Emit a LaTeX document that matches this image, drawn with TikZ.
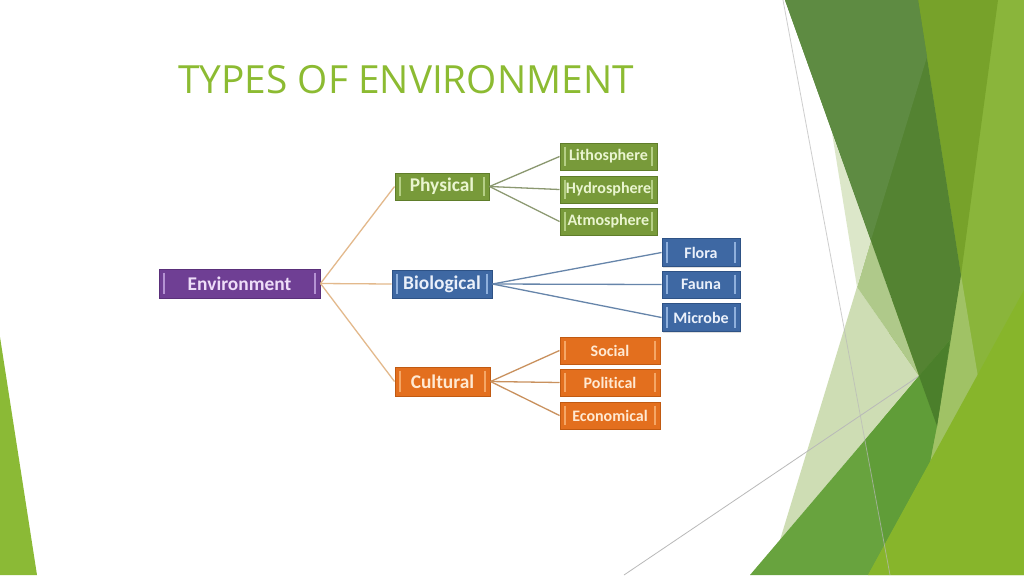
\documentclass[tikz,border=0pt]{standalone}
\usepackage{fontspec}
\usetikzlibrary{shadows}
\newfontfamily\titlefont{Open Sans}
\newfontfamily\boxfont{Carlito}[Ligatures=NoCommon]
\definecolor{titlegreen}{HTML}{8CBB32}
\definecolor{envfill}{HTML}{6F3F94}
\definecolor{envdraw}{HTML}{5A2F7A}
\definecolor{envtext}{HTML}{EEDDF8}
\definecolor{envbar}{HTML}{B593D3}
\definecolor{grfill}{HTML}{789A3A}
\definecolor{grdraw}{HTML}{5F7D2A}
\definecolor{grtext}{HTML}{EAF5D0}
\definecolor{grbar}{HTML}{B5CF85}
\definecolor{blfill}{HTML}{3E68A3}
\definecolor{bldraw}{HTML}{2E5285}
\definecolor{bltext}{HTML}{EAF0FA}
\definecolor{blbar}{HTML}{8FB0DC}
\definecolor{orfill}{HTML}{E36F1E}
\definecolor{ordraw}{HTML}{C05A12}
\definecolor{ortext}{HTML}{FFE9D2}
\definecolor{orbar}{HTML}{F5A766}
\definecolor{envln}{HTML}{E3B98C}
\definecolor{grln}{HTML}{8B9870}
\definecolor{blln}{HTML}{6685AA}
\definecolor{orln}{HTML}{C9915E}
\definecolor{decoA}{HTML}{8AB53B}
\definecolor{decoT}{HTML}{CEDDB4}
\definecolor{decoPT}{HTML}{AFC98A}
\definecolor{decoP}{HTML}{DCE7C9}
\definecolor{decoO}{HTML}{77A22A}
\definecolor{decoPO}{HTML}{A0C265}
\definecolor{decoRd}{HTML}{548332}
\definecolor{decoR}{HTML}{5E8B42}
\definecolor{decoG}{HTML}{68A33E}
\definecolor{decoGd}{HTML}{609D38}
\definecolor{decoX}{HTML}{4B7F2B}
\definecolor{decoY}{HTML}{87B52B}
\definecolor{decoL}{HTML}{8BBA36}
\begin{document}
\begin{tikzpicture}[x=0.5pt,y=-0.5pt]
\tikzset{
  barcol/.store in=\barcol, barcol=white,
  box/.style={rectangle, inner sep=0pt, line width=0.5pt,
    font=\boxfont\bfseries\fontsize{9.7}{10}\selectfont,
    drop shadow={shadow xshift=0.5pt, shadow yshift=-0.7pt, opacity=0.25},
    path picture={
      \draw[line width=0.75pt, \barcol] ([xshift=2.4pt,yshift=-1.8pt]path picture bounding box.north west) -- ([xshift=2.4pt,yshift=1.8pt]path picture bounding box.south west);
      \draw[line width=0.75pt, \barcol] ([xshift=-2.4pt,yshift=-1.8pt]path picture bounding box.north east) -- ([xshift=-2.4pt,yshift=1.8pt]path picture bounding box.south east);
    }},
  smallbox/.style={font=\boxfont\bfseries\fontsize{8}{9}\selectfont},
  purplebox/.style={box, fill=envfill, draw=envdraw, text=envtext, barcol=envbar},
  greenbox/.style={box, fill=grfill, draw=grdraw, text=grtext, barcol=grbar},
  bluebox/.style={box, fill=blfill, draw=bldraw, text=bltext, barcol=blbar},
  orangebox/.style={box, fill=orfill, draw=ordraw, text=ortext, barcol=orbar},
  conn/.style={line width=0.65pt},
  decoline/.style={line width=0.4pt, color=gray!55}
}
\useasboundingbox (0,0) rectangle (1024,575);
\fill[white] (0,0) rectangle (1024,575);

% left decoration
\fill[decoL] (0,337) -- (37,575) -- (0,575) -- cycle;

% right decoration
\fill[decoA] (918,0) -- (1024,0) -- (1024,575) -- (868,575) -- cycle;
\fill[decoT] (857,287) -- (919,376) -- (780,540) -- cycle;
\fill[decoPT] (871,240) -- (919,376) -- (857,287) -- cycle;
\fill[decoP] (832,133) -- (871,240) -- (857,287) -- cycle;
\draw[decoline] (624,575) -- (919,376);
\fill[decoO] (918,0) -- (998,0) -- (961,275) -- cycle;
\fill[decoPO] (961,275) -- (978,377) -- (930,462) -- cycle;
\fill[decoRd] (785,0) -- (918,0) -- (961,275) -- (937,426) -- cycle;
\fill[decoR] (785,0) -- (918,0) -- (927,57) -- (871,240) -- cycle;
\fill[decoG] (750,575) -- (950,340) -- (930,462) -- (868,575) -- cycle;
\fill[decoGd] (865,440) -- (919,376) -- (937,426) -- (930,462) -- (884,545) -- cycle;
\fill[decoX] (919,376) -- (950,340) -- (937,426) -- cycle;
\fill[decoY] (868,575) -- (1024,290) -- (1024,575) -- cycle;
\draw[decoline, opacity=0.7] (783,0) -- (890,575);

% title
\node[anchor=base west, inner sep=0pt, text=titlegreen,
  font=\titlefont\fontsize{19.4}{20}\selectfont] (title) at (178,93) {TYPES OF ENVIRONMENT};

% nodes
\node[purplebox, minimum width=80.5pt, minimum height=14.5pt] (env) at (239.5,283.5) {Environment};
\node[greenbox, minimum width=47pt, minimum height=13.5pt] (phys) at (442,186.5) {Physical};
\node[bluebox, minimum width=50pt, minimum height=14pt] (bio) at (442,284) {Biological};
\node[orangebox, minimum width=47.5pt, minimum height=14.5pt] (cult) at (442.5,381.5) {Cultural};

\node[greenbox, smallbox, minimum width=48.5pt, minimum height=13.5pt] (litho) at (608.5,156.5) {Lithosphere};
\node[greenbox, smallbox, minimum width=48.5pt, minimum height=13.5pt] (hydro) at (608.5,189.5) {Hydrosphere};
\node[greenbox, smallbox, minimum width=48.5pt, minimum height=13.5pt] (atmo) at (608.5,221.5) {Atmosphere};

\node[bluebox, smallbox, minimum width=39pt, minimum height=14pt] (flora) at (701,252.5) {Flora};
\node[bluebox, smallbox, minimum width=39pt, minimum height=13.5pt] (fauna) at (701,284.5) {Fauna};
\node[bluebox, smallbox, minimum width=39pt, minimum height=14pt] (microbe) at (701,317.5) {Microbe};

\node[orangebox, smallbox, minimum width=50pt, minimum height=13.5pt] (social) at (610,350.5) {Social};
\node[orangebox, smallbox, minimum width=50pt, minimum height=13.5pt] (political) at (610,382.5) {Political};
\node[orangebox, smallbox, minimum width=50pt, minimum height=13.5pt] (econ) at (610,415.5) {Economical};

% connectors
\draw[conn, envln] (env.east) -- (phys.west);
\draw[conn, envln] (env.east) -- (bio.west);
\draw[conn, envln] (env.east) -- (cult.west);
\draw[conn, grln] (phys.east) -- (litho.west);
\draw[conn, grln] (phys.east) -- (hydro.west);
\draw[conn, grln] (phys.east) -- (atmo.west);
\draw[conn, blln] (bio.east) -- (flora.west);
\draw[conn, blln] (bio.east) -- (fauna.west);
\draw[conn, blln] (bio.east) -- (microbe.west);
\draw[conn, orln] (cult.east) -- (social.west);
\draw[conn, orln] (cult.east) -- (political.west);
\draw[conn, orln] (cult.east) -- (econ.west);
\end{tikzpicture}
\end{document}
